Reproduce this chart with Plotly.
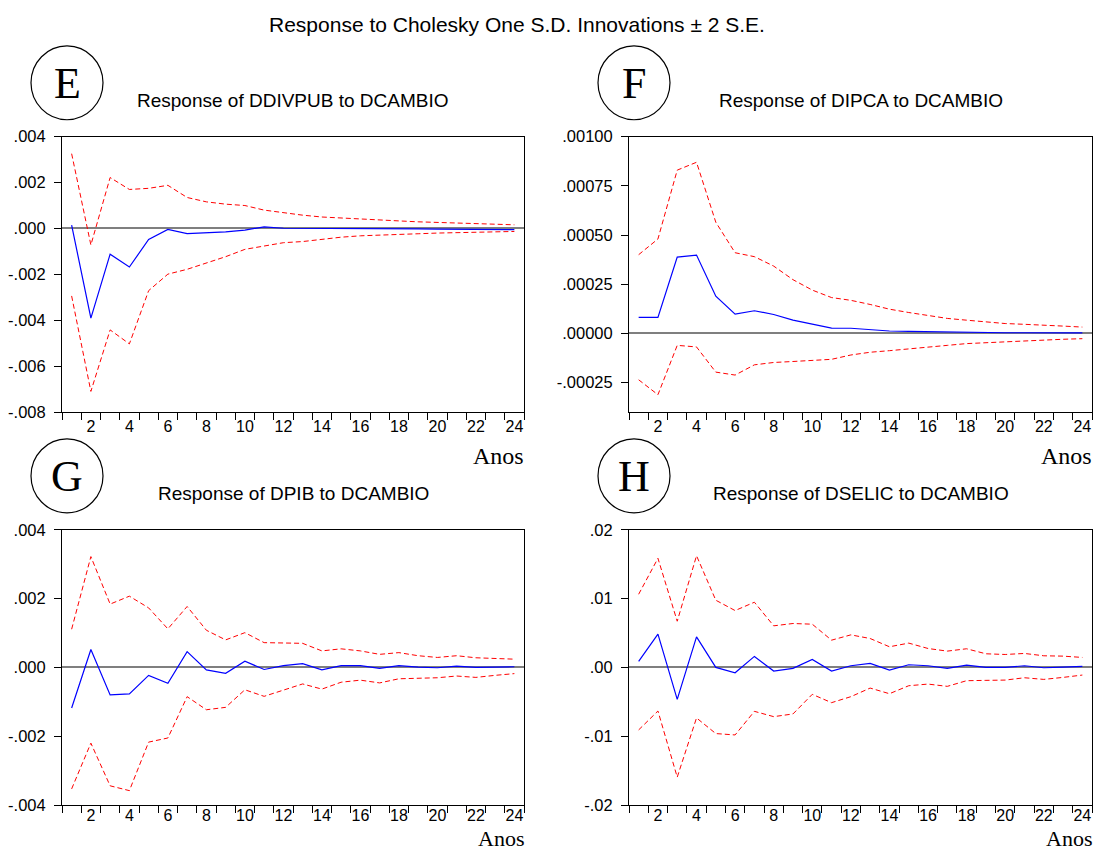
import plotly.graph_objects as go

W, H = 1101, 852

periods = list(range(1, 25))

# Panel E: Response of DDIVPUB to DCAMBIO
e_resp = [0.000145, -0.00391, -0.00112, -0.00168, -0.00048, -0.00004, -0.00022, -0.00020,
          -0.00015, -0.00007, 0.00007, 0.00001, 0.00001, 0.00000, 0.00000, -0.00001,
          -0.00001, -0.00002, -0.00002, -0.00003, -0.00003, -0.00004, -0.00004, -0.00005]
e_up = [0.00326, -0.00072, 0.00222, 0.00170, 0.00175, 0.00188, 0.00135, 0.00116,
        0.00106, 0.00100, 0.00080, 0.00068, 0.00058, 0.00050, 0.00045, 0.00040,
        0.00036, 0.00033, 0.00029, 0.00026, 0.00023, 0.00020, 0.00017, 0.00016]
e_lo = [-0.00294, -0.00710, -0.00442, -0.00503, -0.00271, -0.00199, -0.00178, -0.00152,
        -0.00123, -0.00091, -0.00075, -0.00062, -0.00057, -0.00046, -0.00038, -0.00032,
        -0.00028, -0.00026, -0.00023, -0.00020, -0.00019, -0.00017, -0.00014, -0.00013]

# Panel F: Response of DIPCA to DCAMBIO
f_resp = [0.000081, 0.000081, 0.000388, 0.000398, 0.000189, 0.000098, 0.000115, 0.000096,
          0.000067, 0.000046, 0.000027, 0.000026, 0.000020, 0.000012, 0.000010, 0.000008,
          0.000007, 0.000007, 0.000005, 0.000003, 0.000003, 0.000002, 0.000002, 0.000002]
f_up = [0.000400, 0.000480, 0.000830, 0.000870, 0.000565, 0.000410, 0.000390, 0.000342,
        0.000273, 0.000220, 0.000182, 0.000168, 0.000147, 0.000123, 0.000106, 0.000091,
        0.000076, 0.000067, 0.000059, 0.000050, 0.000046, 0.000040, 0.000037, 0.000032]
f_lo = [-0.000236, -0.000312, -0.000061, -0.000069, -0.000197, -0.000212, -0.000160, -0.000148,
        -0.000143, -0.000138, -0.000132, -0.000110, -0.000096, -0.000088, -0.000078, -0.000069,
        -0.000061, -0.000052, -0.000047, -0.000042, -0.000037, -0.000034, -0.000030, -0.000027]

# Panel G: Response of DPIB to DCAMBIO
g_resp = [-0.00118, 0.00052, -0.00080, -0.00077, -0.00023, -0.00046, 0.00046, -0.00007,
          -0.00017, 0.00018, -0.00006, 0.00005, 0.00011, -0.00007, 0.00005, 0.00005,
          -0.00003, 0.00005, 0.00001, -0.00001, 0.00004, 0.00000, 0.00001, 0.00002]
g_up = [0.00111, 0.00322, 0.00184, 0.00207, 0.00173, 0.00112, 0.00177, 0.00108,
        0.00080, 0.00101, 0.00072, 0.00071, 0.00070, 0.00048, 0.00054, 0.00048,
        0.00038, 0.00043, 0.00034, 0.00029, 0.00034, 0.00028, 0.00025, 0.00024]
g_lo = [-0.00353, -0.00220, -0.00344, -0.00358, -0.00217, -0.00205, -0.00085, -0.00123,
        -0.00116, -0.00065, -0.00084, -0.00067, -0.00048, -0.00063, -0.00043, -0.00037,
        -0.00045, -0.00033, -0.00032, -0.00030, -0.00025, -0.00029, -0.00023, -0.00018]

# Panel H: Response of DSELIC to DCAMBIO
h_resp = [0.00087, 0.00483, -0.00464, 0.00444, 0.00000, -0.00077, 0.00160, -0.00053,
          -0.00014, 0.00116, -0.00053, 0.00024, 0.00058, -0.00039, 0.00039, 0.00024,
          -0.00014, 0.00034, 0.00000, 0.00000, 0.00024, -0.00005, 0.00005, 0.00014]
h_up = [0.01063, 0.01585, 0.00671, 0.01623, 0.00976, 0.00826, 0.00947, 0.00604,
        0.00638, 0.00628, 0.00396, 0.00473, 0.00420, 0.00300, 0.00353, 0.00275,
        0.00237, 0.00271, 0.00198, 0.00188, 0.00203, 0.00169, 0.00164, 0.00145]
h_lo = [-0.00908, -0.00633, -0.01594, -0.00734, -0.00961, -0.00981, -0.00638, -0.00715,
        -0.00676, -0.00391, -0.00512, -0.00425, -0.00300, -0.00382, -0.00266, -0.00242,
        -0.00275, -0.00193, -0.00188, -0.00184, -0.00150, -0.00174, -0.00145, -0.00111]

x_ticks = list(range(2, 25, 2))
x_ticktext = [str(v) for v in x_ticks]

e_yticks = [0.004, 0.002, 0.0, -0.002, -0.004, -0.006, -0.008]
e_yticktext = [".004", ".002", ".000", "-.002", "-.004", "-.006", "-.008"]
f_yticks = [0.001, 0.00075, 0.0005, 0.00025, 0.0, -0.00025]
f_yticktext = [".00100", ".00075", ".00050", ".00025", ".00000", "-.00025"]
g_yticks = [0.004, 0.002, 0.0, -0.002, -0.004]
g_yticktext = [".004", ".002", ".000", "-.002", "-.004"]
h_yticks = [0.02, 0.01, 0.0, -0.01, -0.02]
h_yticktext = [".02", ".01", ".00", "-.01", "-.02"]

main_title = "Response to Cholesky One S.D. Innovations \u00b1 2 S.E."
panel_titles = ["Response of DDIVPUB to DCAMBIO", "Response of DIPCA to DCAMBIO",
                "Response of DPIB to DCAMBIO", "Response of DSELIC to DCAMBIO"]
panel_letters = ["E", "F", "G", "H"]
x_label = "Anos"

panels = [
    dict(resp=e_resp, up=e_up, lo=e_lo, yr=[-0.008, 0.004], yt=e_yticks, ytt=e_yticktext,
         box=(62, 524, 136, 412), anos=456, anos_size=24, xstand=0),
    dict(resp=f_resp, up=f_up, lo=f_lo, yr=[-0.0004, 0.001], yt=f_yticks, ytt=f_yticktext,
         box=(629, 1092, 136, 412), anos=456, anos_size=24, xstand=0),
    dict(resp=g_resp, up=g_up, lo=g_lo, yr=[-0.004, 0.004], yt=g_yticks, ytt=g_yticktext,
         box=(62, 524, 530, 806), anos=839, anos_size=22, xstand=-4),
    dict(resp=h_resp, up=h_up, lo=h_lo, yr=[-0.02, 0.02], yt=h_yticks, ytt=h_yticktext,
         box=(629, 1092, 530, 806), anos=839, anos_size=22, xstand=-4),
]

# pixel -> paper helpers (the page renders the paper 836px tall, 8px from the top)
def px(x):
    return x / W

def py(y):
    return 1 - (y - 8) / 836

SANS = "Liberation Sans, Arial, sans-serif"
SERIF = "Liberation Serif, Times New Roman, serif"

fig = go.Figure()
layout = dict(width=W, height=H, autosize=False, margin=dict(l=0, r=0, t=0, b=0, pad=0),
              paper_bgcolor="white", plot_bgcolor="white", showlegend=False)
annotations = []
shapes = []

for i, p in enumerate(panels):
    k = "" if i == 0 else str(i + 1)
    xa, ya = "x" + k, "y" + k
    x0, x1, y0, y1 = p["box"]
    fig.add_trace(go.Scatter(x=periods, y=p["up"], mode="lines", xaxis=xa, yaxis=ya,
                             line=dict(color="#FF0000", width=1, dash="5px,3px")))
    fig.add_trace(go.Scatter(x=periods, y=p["lo"], mode="lines", xaxis=xa, yaxis=ya,
                             line=dict(color="#FF0000", width=1, dash="5px,3px")))
    fig.add_trace(go.Scatter(x=periods, y=p["resp"], mode="lines", xaxis=xa, yaxis=ya,
                             line=dict(color="#0000FF", width=1.2)))
    layout["xaxis" + k] = dict(
        domain=[px(x0), px(x1)], anchor=ya, range=[0.5, 24.5],
        tickmode="array", tickvals=x_ticks, ticktext=x_ticktext, ticks="",
        ticklabelstandoff=p["xstand"],
        showline=True, mirror=True, linecolor="black", linewidth=1,
        showgrid=False, zeroline=False,
        tickfont=dict(family=SANS, size=16, color="black"),
        minor=dict(tickmode="array", tickvals=[v + 0.5 for v in range(0, 25)],
                   ticks="outside", ticklen=7, tickcolor="black", tickwidth=1, showgrid=False),
    )
    layout["yaxis" + k] = dict(
        domain=[py(y1), py(y0)], anchor=xa, range=p["yr"],
        tickmode="array", tickvals=p["yt"], ticktext=p["ytt"],
        ticks="outside", ticklen=7, tickcolor="black", tickwidth=1,
        ticklabelstandoff=5,
        showline=True, mirror=True, linecolor="black", linewidth=1,
        showgrid=False, zeroline=True, zerolinecolor="#7f7f7f", zerolinewidth=2,
        tickfont=dict(family=SANS, size=16.5, color="black"),
    )
    annotations.append(dict(text=panel_titles[i], x=px((x0 + x1) / 2), y=py(y0 - 36),
                            xref="paper", yref="paper", showarrow=False,
                            xanchor="center", yanchor="middle",
                            font=dict(family=SANS, size=19, color="black")))
    cx, cy = x0 + 5, y0 - 54
    shapes.append(dict(type="circle", xref="paper", yref="paper",
                       x0=px(cx - 36), x1=px(cx + 36), y0=py(cy + 37), y1=py(cy - 37),
                       line=dict(color="black", width=1.2)))
    annotations.append(dict(text=panel_letters[i], x=px(cx), y=py(cy + 1),
                            xref="paper", yref="paper", showarrow=False,
                            xanchor="center", yanchor="middle",
                            font=dict(family=SERIF, size=44, color="black")))
    annotations.append(dict(text=x_label, x=px(x1 + 2), y=py(p["anos"]),
                            xref="paper", yref="paper", showarrow=False,
                            xanchor="right", yanchor="middle",
                            font=dict(family=SERIF, size=p["anos_size"], color="black")))

annotations.append(dict(text=main_title, x=px(517), y=py(24), xref="paper", yref="paper",
                        showarrow=False, xanchor="center", yanchor="middle",
                        font=dict(family=SANS, size=21, color="black")))

layout["annotations"] = annotations
layout["shapes"] = shapes
fig.update_layout(**layout)
fig.write_html("out.html", config={"responsive": False})
